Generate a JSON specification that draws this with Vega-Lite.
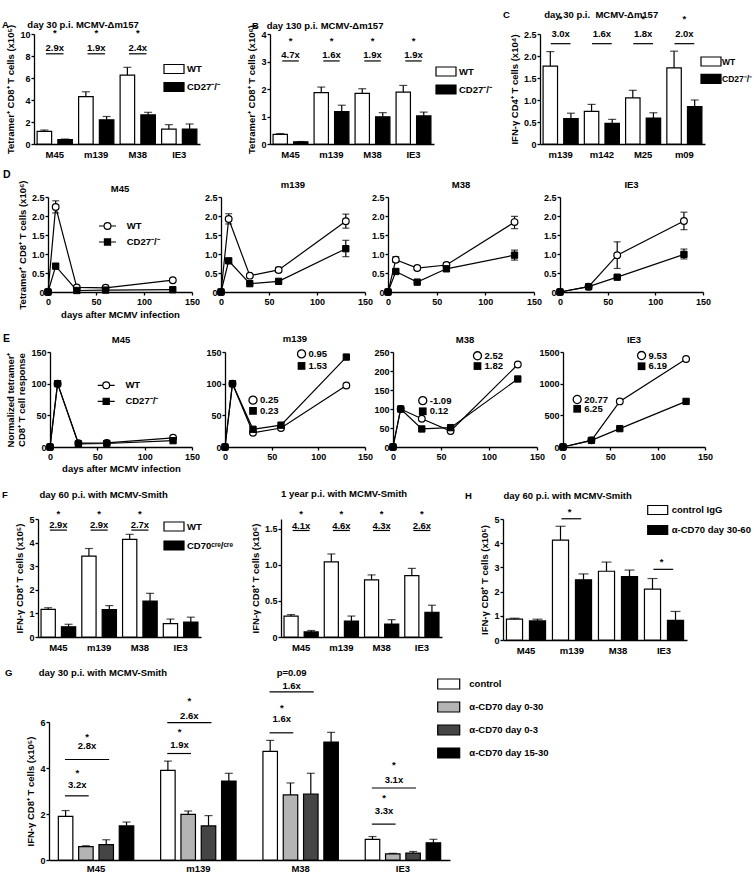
{
"$schema":"https://vega.github.io/schema/vega-lite/v6.json",
"padding":{"left":0,"top":10,"right":0,"bottom":0},
"background":"white",
"config":{
 "view":{"stroke":null},
 "font":"Liberation Sans",
 "axis":{"domainColor":"black","domainWidth":1.3,"tickColor":"black","tickWidth":1.3,"tickSize":3,"labelColor":"black","labelFont":"Liberation Sans","labelFontSize":9,"labelFontWeight":"bold","labelPadding":1,"titleColor":"black","titleFont":"Liberation Sans","titleFontSize":9.5,"titleFontWeight":"bold","titlePadding":4,"grid":false,"labelOverlap":false,"labelBound":false,"labelFlush":false,"tickCount":20},
 "axisX":{"labelPadding":2},
 "axisBand":{"ticks":false,"labelPadding":5,"labelFontSize":9.5},
 "title":{"font":"Liberation Sans","fontSize":9.5,"fontWeight":"bold","color":"black","anchor":"start","offset":2,"frame":"group"},
 "legend":{"padding":0,"labelFont":"Liberation Sans","labelFontSize":9.5,"labelFontWeight":"bold","labelColor":"black","symbolStrokeColor":"black","symbolStrokeWidth":1.2,"symbolOpacity":1},
 "text":{"font":"Liberation Sans","fontSize":9.5,"fontWeight":"bold","color":"black","baseline":"middle"}
},
"spacing":0,
"resolve":{"scale":{"fill":"independent","shape":"independent","xOffset":"independent"}},
"vconcat":[
{
 "hconcat":[
  {"width":34,"height":135.5,"mark":{"type":"point","opacity":0},"data":{"values":[{}]},"encoding":{}},
  {
   "width":166,"height":110,
   "title":{"text":"A\u00a0\u00a0\u00a0\u00a0\u00a0\u00a0\u00a0day 30 p.i. MCMV-Δm157","dx":-32,"dy":7},
   "data":{"values":[
    {"g":"M45","s":"WT","v":1.15,"e":1.27},{"g":"M45","s":"CD27⁻/⁻","v":0.4,"e":0.45},
    {"g":"m139","s":"WT","v":4.3,"e":4.75},{"g":"m139","s":"CD27⁻/⁻","v":2.2,"e":2.5},
    {"g":"M38","s":"WT","v":6.27,"e":6.97},{"g":"M38","s":"CD27⁻/⁻","v":2.64,"e":2.88},
    {"g":"IE3","s":"WT","v":1.36,"e":1.76},{"g":"IE3","s":"CD27⁻/⁻","v":1.36,"e":1.82}]},
   "layer":[
    {"mark":{"type":"bar","stroke":"black","strokeWidth":1.2},
     "encoding":{
      "x":{"field":"g","type":"nominal","sort":["M45","m139","M38","IE3"],"scale":{"paddingInner":0,"paddingOuter":0},"axis":{"title":null,"labelAngle":0}},
      "xOffset":{"field":"s","type":"nominal","sort":["WT","CD27⁻/⁻"],"scale":{"paddingInner":0.3,"paddingOuter":0.15}},
      "y":{"field":"v","type":"quantitative","scale":{"domain":[0,10],"nice":false},"axis":{"title":"Tetramer⁺ CD8⁺ T cells (x10⁵)","values":[0,2,4,6,8,10],"tickCount":20,"format":"d"}},
      "fill":{"field":"s","type":"nominal","scale":{"domain":["WT","CD27⁻/⁻"],"range":["white","black"]},"legend":{"orient":"none","legendX":134,"legendY":29,"title":null,"symbolType":"M-2,-0.9H2V0.9H-2Z","symbolSize":100,"labelOffset":7,"rowPadding":4}}}},
    {"mark":{"type":"rule","color":"black","strokeWidth":1.2},
     "encoding":{"x":{"field":"g","type":"nominal","sort":["M45","m139","M38","IE3"]},"xOffset":{"field":"s","type":"nominal","sort":["WT","CD27⁻/⁻"]},"y":{"field":"v","type":"quantitative"},"y2":{"field":"e"}}},
    {"mark":{"type":"tick","orient":"horizontal","color":"black","size":8,"thickness":1.2},
     "encoding":{"x":{"field":"g","type":"nominal","sort":["M45","m139","M38","IE3"]},"xOffset":{"field":"s","type":"nominal","sort":["WT","CD27⁻/⁻"]},"y":{"field":"e","type":"quantitative"}}},
    {"data":{"values":[{"g":"M45","t":"*","f":"2.9x"},{"g":"m139","t":"*","f":"1.9x"},{"g":"M38","t":"*","f":"2.4x"}]},
     "layer":[
      {"mark":{"type":"text"},"encoding":{"x":{"field":"g","type":"nominal","sort":["M45","m139","M38","IE3"]},"y":{"datum":10.1},"text":{"field":"t"}}},
      {"mark":{"type":"text"},"encoding":{"x":{"field":"g","type":"nominal","sort":["M45","m139","M38","IE3"]},"y":{"datum":8.7},"text":{"field":"f"}}},
      {"mark":{"type":"rule","color":"black","strokeWidth":1.2},"encoding":{"x":{"field":"g","type":"nominal","sort":["M45","m139","M38","IE3"],"bandPosition":0.29},"x2":{"field":"g","bandPosition":0.71},"y":{"datum":8.2}}}
     ]}
   ]
  },
  {"width":70,"height":10,"mark":{"type":"point","opacity":0},"data":{"values":[{}]},"encoding":{}},
  {
   "width":164,"height":110,
   "title":{"text":"B\u00a0\u00a0\u00a0day 130 p.i. MCMV-Δm157","dx":-18,"dy":8},
   "data":{"values":[
    {"g":"M45","s":"WT","v":0.35,"e":0.38},{"g":"M45","s":"CD27⁻/⁻","v":0.08,"e":0.09},
    {"g":"m139","s":"WT","v":1.87,"e":2.07},{"g":"m139","s":"CD27⁻/⁻","v":1.18,"e":1.41},
    {"g":"M38","s":"WT","v":1.84,"e":2.01},{"g":"M38","s":"CD27⁻/⁻","v":0.99,"e":1.14},
    {"g":"IE3","s":"WT","v":1.89,"e":2.13},{"g":"IE3","s":"CD27⁻/⁻","v":1.02,"e":1.16}]},
   "layer":[
    {"mark":{"type":"bar","stroke":"black","strokeWidth":1.2},
     "encoding":{
      "x":{"field":"g","type":"nominal","sort":["M45","m139","M38","IE3"],"scale":{"paddingInner":0,"paddingOuter":0},"axis":{"title":null,"labelAngle":0}},
      "xOffset":{"field":"s","type":"nominal","sort":["WT","CD27⁻/⁻"],"scale":{"paddingInner":0.3,"paddingOuter":0.15}},
      "y":{"field":"v","type":"quantitative","scale":{"domain":[0,4],"nice":false},"axis":{"title":"Tetramer⁺ CD8⁺ T cells (x10⁶)","values":[0,1,2,3,4],"tickCount":20,"format":"d"}},
      "fill":{"field":"s","type":"nominal","scale":{"domain":["WT","CD27⁻/⁻"],"range":["white","black"]},"legend":{"orient":"none","legendX":170,"legendY":31.5,"title":null,"symbolType":"M-2,-0.9H2V0.9H-2Z","symbolSize":100,"labelOffset":7,"rowPadding":4}}}},
    {"mark":{"type":"rule","color":"black","strokeWidth":1.2},
     "encoding":{"x":{"field":"g","type":"nominal","sort":["M45","m139","M38","IE3"]},"xOffset":{"field":"s","type":"nominal","sort":["WT","CD27⁻/⁻"]},"y":{"field":"v","type":"quantitative"},"y2":{"field":"e"}}},
    {"mark":{"type":"tick","orient":"horizontal","color":"black","size":8,"thickness":1.2},
     "encoding":{"x":{"field":"g","type":"nominal","sort":["M45","m139","M38","IE3"]},"xOffset":{"field":"s","type":"nominal","sort":["WT","CD27⁻/⁻"]},"y":{"field":"e","type":"quantitative"}}},
    {"data":{"values":[{"g":"M45","t":"*","f":"4.7x"},{"g":"m139","t":"*","f":"1.6x"},{"g":"M38","t":"*","f":"1.9x"},{"g":"IE3","t":"*","f":"1.9x"}]},
     "layer":[
      {"mark":{"type":"text"},"encoding":{"x":{"field":"g","type":"nominal","sort":["M45","m139","M38","IE3"]},"y":{"datum":3.75},"text":{"field":"t"}}},
      {"mark":{"type":"text"},"encoding":{"x":{"field":"g","type":"nominal","sort":["M45","m139","M38","IE3"]},"y":{"datum":3.24},"text":{"field":"f"}}},
      {"mark":{"type":"rule","color":"black","strokeWidth":1.2},"encoding":{"x":{"field":"g","type":"nominal","sort":["M45","m139","M38","IE3"],"bandPosition":0.3},"x2":{"field":"g","bandPosition":0.7},"y":{"datum":3.02}}}
     ]}
   ]
  },
  {"width":106,"height":10,"mark":{"type":"point","opacity":0},"data":{"values":[{}]},"encoding":{}},
  {
   "width":165,"height":110,
   "title":{"text":"C\u00a0\u00a0\u00a0\u00a0\u00a0\u00a0\u00a0\u00a0\u00a0\u00a0\u00a0\u00a0\u00a0day 30 p.i.\u00a0\u00a0MCMV-Δm157","dx":-37,"dy":8},
   "data":{"values":[
    {"g":"m139","s":"WT","v":1.77,"e":2.1},{"g":"m139","s":"CD27⁻/⁻","v":0.58,"e":0.7},
    {"g":"m142","s":"WT","v":0.74,"e":0.9},{"g":"m142","s":"CD27⁻/⁻","v":0.47,"e":0.56},
    {"g":"M25","s":"WT","v":1.05,"e":1.22},{"g":"M25","s":"CD27⁻/⁻","v":0.59,"e":0.71},
    {"g":"m09","s":"WT","v":1.73,"e":2.11},{"g":"m09","s":"CD27⁻/⁻","v":0.85,"e":1.0}]},
   "layer":[
    {"mark":{"type":"bar","stroke":"black","strokeWidth":1.2},
     "encoding":{
      "x":{"field":"g","type":"nominal","sort":["m139","m142","M25","m09"],"scale":{"paddingInner":0,"paddingOuter":0},"axis":{"title":null,"labelAngle":0}},
      "xOffset":{"field":"s","type":"nominal","sort":["WT","CD27⁻/⁻"],"scale":{"paddingInner":0.3,"paddingOuter":0.15}},
      "y":{"field":"v","type":"quantitative","scale":{"domain":[0,2.5],"nice":false},"axis":{"title":"IFN-γ CD4⁺ T cells (x10⁴)","values":[0,0.5,1,1.5,2,2.5],"tickCount":20,"labelExpr":"datum.value == 0 ? '0' : format(datum.value, '.1f')"}},
      "fill":{"field":"s","type":"nominal","scale":{"domain":["WT","CD27⁻/⁻"],"range":["white","black"]},"legend":{"orient":"none","legendX":165,"legendY":21.5,"title":null,"symbolType":"M-2,-0.9H2V0.9H-2Z","symbolSize":100,"labelOffset":5,"rowPadding":3.3,"labelFontSize":8.5}}}},
    {"mark":{"type":"rule","color":"black","strokeWidth":1.2},
     "encoding":{"x":{"field":"g","type":"nominal","sort":["m139","m142","M25","m09"]},"xOffset":{"field":"s","type":"nominal","sort":["WT","CD27⁻/⁻"]},"y":{"field":"v","type":"quantitative"},"y2":{"field":"e"}}},
    {"mark":{"type":"tick","orient":"horizontal","color":"black","size":8,"thickness":1.2},
     "encoding":{"x":{"field":"g","type":"nominal","sort":["m139","m142","M25","m09"]},"xOffset":{"field":"s","type":"nominal","sort":["WT","CD27⁻/⁻"]},"y":{"field":"e","type":"quantitative"}}},
    {"data":{"values":[{"g":"m139","t":"*","f":"3.0x"},{"g":"m142","t":"","f":"1.6x"},{"g":"M25","t":"*","f":"1.8x"},{"g":"m09","t":"*","f":"2.0x"}]},
     "layer":[
      {"mark":{"type":"text"},"encoding":{"x":{"field":"g","type":"nominal","sort":["m139","m142","M25","m09"]},"y":{"datum":2.85},"text":{"field":"t"}}},
      {"mark":{"type":"text"},"encoding":{"x":{"field":"g","type":"nominal","sort":["m139","m142","M25","m09"]},"y":{"datum":2.5},"text":{"field":"f"}}},
      {"mark":{"type":"rule","color":"black","strokeWidth":1.2},"encoding":{"x":{"field":"g","type":"nominal","sort":["m139","m142","M25","m09"],"bandPosition":0.26},"x2":{"field":"g","bandPosition":0.74},"y":{"datum":2.28}}}
     ]}
   ]
  }
 ],
 "spacing":0,"bounds":"flush",
 "resolve":{"scale":{"fill":"independent","shape":"independent","xOffset":"independent"}}
},
{
 "title":{"text":"D","anchor":"start","dx":3,"dy":3,"fontSize":10.5},
 "hconcat":[
  {"width":48,"height":135.5,"mark":{"type":"point","opacity":0},"data":{"values":[{}]},"encoding":{}},
  {
   "width":144,"height":95,"title":{"text":"M45","anchor":"middle","dy":15},
   "data":{"values":[
    {"d":0,"s":"WT","v":0},{"d":8,"s":"WT","v":2.24,"lo":2.08,"hi":2.4},{"d":30,"s":"WT","v":0.12},{"d":60,"s":"WT","v":0.11},{"d":130,"s":"WT","v":0.31},
    {"d":0,"s":"CD27⁻/⁻","v":0},{"d":8,"s":"CD27⁻/⁻","v":0.68},{"d":30,"s":"CD27⁻/⁻","v":0.04},{"d":60,"s":"CD27⁻/⁻","v":0.05},{"d":130,"s":"CD27⁻/⁻","v":0.06}]},
   "layer":[
    {"mark":{"type":"line","color":"black","strokeWidth":1.2},"encoding":{"x":{"field":"d","type":"quantitative","scale":{"domain":[0,150],"nice":false},"axis":{"values":[0,50,100,150],"tickCount":20,"format":"d","title":"days after MCMV infection","titlePadding":3}},"y":{"field":"v","type":"quantitative","scale":{"domain":[0,2.5],"nice":false},"axis":{"values":[0,0.5,1,1.5,2,2.5],"tickCount":20,"labelExpr":"datum.value == 0 ? '0' : format(datum.value, '.1f')","title":"Tetramer⁺ CD8⁺ T cells (x10⁶)"}},"detail":{"field":"s"}}},
    {"transform":[{"filter":"isValid(datum.hi)"}],"mark":{"type":"rule","color":"black","strokeWidth":1.2},"encoding":{"x":{"field":"d","type":"quantitative"},"y":{"field":"lo","type":"quantitative"},"y2":{"field":"hi"}}},
    {"transform":[{"filter":"isValid(datum.hi)"}],"mark":{"type":"tick","orient":"horizontal","color":"black","size":7,"thickness":1.2},"encoding":{"x":{"field":"d","type":"quantitative"},"y":{"field":"hi","type":"quantitative"}}},
    {"transform":[{"filter":"isValid(datum.hi)"}],"mark":{"type":"tick","orient":"horizontal","color":"black","size":7,"thickness":1.2},"encoding":{"x":{"field":"d","type":"quantitative"},"y":{"field":"lo","type":"quantitative"}}},
    {"transform":[{"filter":"datum.s == 'WT'"}],"mark":{"type":"point","shape":"circle","filled":true,"fill":"white","stroke":"black","strokeWidth":1.2,"size":45,"opacity":1},"encoding":{"x":{"field":"d","type":"quantitative"},"y":{"field":"v","type":"quantitative"}}},
    {"transform":[{"filter":"datum.s != 'WT'"}],"mark":{"type":"point","shape":"square","filled":true,"fill":"black","stroke":"black","strokeWidth":1,"size":40,"opacity":1},"encoding":{"x":{"field":"d","type":"quantitative"},"y":{"field":"v","type":"quantitative"}}},
    {"transform":[{"filter":"false"}],"mark":{"type":"point","filled":true,"stroke":"black","size":289},"encoding":{"x":{"field":"d","type":"quantitative"},"y":{"field":"v","type":"quantitative"},
      "shape":{"field":"s","type":"nominal","scale":{"domain":["WT","CD27⁻/⁻"],"range":["M-1,0H-0.4M0.4,0H1M-0.4,0A0.4,0.4,0,1,1,0.4,0A0.4,0.4,0,1,1,-0.4,0Z","M-1,0H1M-0.36,-0.36H0.36V0.36H-0.36Z"]},"legend":{"orient":"none","legendX":50,"legendY":19.5,"title":null,"symbolSize":289,"labelOffset":9.7,"rowPadding":-1,"encode":{"symbols":{"update":{"stroke":{"value":"black"},"strokeWidth":{"value":1.2}}}}}},
      "fill":{"field":"s","type":"nominal","scale":{"domain":["WT","CD27⁻/⁻"],"range":["white","black"]},"legend":{"orient":"none","legendX":50,"legendY":19.5,"title":null,"symbolSize":289,"labelOffset":9.7,"rowPadding":-1,"encode":{"symbols":{"update":{"stroke":{"value":"black"},"strokeWidth":{"value":1.2}}}}}}}}
   ]
  },
  {"width":29,"height":10,"mark":{"type":"point","opacity":0},"data":{"values":[{}]},"encoding":{}},
  {
   "width":144,"height":95,"title":{"text":"m139","anchor":"middle","dy":-2},
   "data":{"values":[
    {"d":0,"s":"WT","v":0},{"d":8,"s":"WT","v":1.92,"lo":1.79,"hi":2.06},{"d":30,"s":"WT","v":0.43,"lo":0.4,"hi":0.46},{"d":60,"s":"WT","v":0.58,"lo":0.52,"hi":0.65},{"d":130,"s":"WT","v":1.86,"lo":1.68,"hi":2.05},
    {"d":0,"s":"CD27⁻/⁻","v":0},{"d":8,"s":"CD27⁻/⁻","v":0.82,"lo":0.76,"hi":0.88},{"d":30,"s":"CD27⁻/⁻","v":0.22},{"d":60,"s":"CD27⁻/⁻","v":0.28,"lo":0.24,"hi":0.32},{"d":130,"s":"CD27⁻/⁻","v":1.14,"lo":0.93,"hi":1.36}]},
   "layer":[
    {"mark":{"type":"line","color":"black","strokeWidth":1.2},"encoding":{"x":{"field":"d","type":"quantitative","scale":{"domain":[0,150],"nice":false},"axis":{"values":[0,50,100,150],"tickCount":20,"format":"d","title":null}},"y":{"field":"v","type":"quantitative","scale":{"domain":[0,2.5],"nice":false},"axis":{"values":[0,0.5,1,1.5,2,2.5],"tickCount":20,"labelExpr":"datum.value == 0 ? '0' : format(datum.value, '.1f')","title":null}},"detail":{"field":"s"}}},
    {"transform":[{"filter":"isValid(datum.hi)"}],"mark":{"type":"rule","color":"black","strokeWidth":1.2},"encoding":{"x":{"field":"d","type":"quantitative"},"y":{"field":"lo","type":"quantitative"},"y2":{"field":"hi"}}},
    {"transform":[{"filter":"isValid(datum.hi)"}],"mark":{"type":"tick","orient":"horizontal","color":"black","size":7,"thickness":1.2},"encoding":{"x":{"field":"d","type":"quantitative"},"y":{"field":"hi","type":"quantitative"}}},
    {"transform":[{"filter":"isValid(datum.hi)"}],"mark":{"type":"tick","orient":"horizontal","color":"black","size":7,"thickness":1.2},"encoding":{"x":{"field":"d","type":"quantitative"},"y":{"field":"lo","type":"quantitative"}}},
    {"transform":[{"filter":"datum.s == 'WT'"}],"mark":{"type":"point","shape":"circle","filled":true,"fill":"white","stroke":"black","strokeWidth":1.2,"size":45,"opacity":1},"encoding":{"x":{"field":"d","type":"quantitative"},"y":{"field":"v","type":"quantitative"}}},
    {"transform":[{"filter":"datum.s != 'WT'"}],"mark":{"type":"point","shape":"square","filled":true,"fill":"black","stroke":"black","strokeWidth":1,"size":40,"opacity":1},"encoding":{"x":{"field":"d","type":"quantitative"},"y":{"field":"v","type":"quantitative"}}}
   ]
  },
  {"width":23,"height":10,"mark":{"type":"point","opacity":0},"data":{"values":[{}]},"encoding":{}},
  {
   "width":146,"height":95,"title":{"text":"M38","anchor":"middle","dy":-2},
   "data":{"values":[
    {"d":0,"s":"WT","v":0},{"d":8,"s":"WT","v":0.85,"lo":0.78,"hi":0.93},{"d":30,"s":"WT","v":0.63,"lo":0.58,"hi":0.68},{"d":60,"s":"WT","v":0.71,"lo":0.66,"hi":0.77},{"d":130,"s":"WT","v":1.84,"lo":1.67,"hi":1.99},
    {"d":0,"s":"CD27⁻/⁻","v":0},{"d":8,"s":"CD27⁻/⁻","v":0.54,"lo":0.5,"hi":0.6},{"d":30,"s":"CD27⁻/⁻","v":0.26,"lo":0.23,"hi":0.29},{"d":60,"s":"CD27⁻/⁻","v":0.61,"lo":0.58,"hi":0.65},{"d":130,"s":"CD27⁻/⁻","v":0.97,"lo":0.84,"hi":1.1}]},
   "layer":[
    {"mark":{"type":"line","color":"black","strokeWidth":1.2},"encoding":{"x":{"field":"d","type":"quantitative","scale":{"domain":[0,150],"nice":false},"axis":{"values":[0,50,100,150],"tickCount":20,"format":"d","title":null}},"y":{"field":"v","type":"quantitative","scale":{"domain":[0,2.5],"nice":false},"axis":{"values":[0,0.5,1,1.5,2,2.5],"tickCount":20,"labelExpr":"datum.value == 0 ? '0' : format(datum.value, '.1f')","title":null}},"detail":{"field":"s"}}},
    {"transform":[{"filter":"isValid(datum.hi)"}],"mark":{"type":"rule","color":"black","strokeWidth":1.2},"encoding":{"x":{"field":"d","type":"quantitative"},"y":{"field":"lo","type":"quantitative"},"y2":{"field":"hi"}}},
    {"transform":[{"filter":"isValid(datum.hi)"}],"mark":{"type":"tick","orient":"horizontal","color":"black","size":7,"thickness":1.2},"encoding":{"x":{"field":"d","type":"quantitative"},"y":{"field":"hi","type":"quantitative"}}},
    {"transform":[{"filter":"isValid(datum.hi)"}],"mark":{"type":"tick","orient":"horizontal","color":"black","size":7,"thickness":1.2},"encoding":{"x":{"field":"d","type":"quantitative"},"y":{"field":"lo","type":"quantitative"}}},
    {"transform":[{"filter":"datum.s == 'WT'"}],"mark":{"type":"point","shape":"circle","filled":true,"fill":"white","stroke":"black","strokeWidth":1.2,"size":45,"opacity":1},"encoding":{"x":{"field":"d","type":"quantitative"},"y":{"field":"v","type":"quantitative"}}},
    {"transform":[{"filter":"datum.s != 'WT'"}],"mark":{"type":"point","shape":"square","filled":true,"fill":"black","stroke":"black","strokeWidth":1,"size":40,"opacity":1},"encoding":{"x":{"field":"d","type":"quantitative"},"y":{"field":"v","type":"quantitative"}}}
   ]
  },
  {"width":26,"height":10,"mark":{"type":"point","opacity":0},"data":{"values":[{}]},"encoding":{}},
  {
   "width":143,"height":95,"title":{"text":"IE3","anchor":"middle","dy":-2},
   "data":{"values":[
    {"d":0,"s":"WT","v":0},{"d":30,"s":"WT","v":0.14},{"d":60,"s":"WT","v":0.97,"lo":0.62,"hi":1.32},{"d":130,"s":"WT","v":1.87,"lo":1.64,"hi":2.1},
    {"d":0,"s":"CD27⁻/⁻","v":0},{"d":30,"s":"CD27⁻/⁻","v":0.14},{"d":60,"s":"CD27⁻/⁻","v":0.39,"lo":0.37,"hi":0.42},{"d":130,"s":"CD27⁻/⁻","v":0.99,"lo":0.87,"hi":1.13}]},
   "layer":[
    {"mark":{"type":"line","color":"black","strokeWidth":1.2},"encoding":{"x":{"field":"d","type":"quantitative","scale":{"domain":[0,150],"nice":false},"axis":{"values":[0,50,100,150],"tickCount":20,"format":"d","title":null}},"y":{"field":"v","type":"quantitative","scale":{"domain":[0,2.5],"nice":false},"axis":{"values":[0,0.5,1,1.5,2,2.5],"tickCount":20,"labelExpr":"datum.value == 0 ? '0' : format(datum.value, '.1f')","title":null}},"detail":{"field":"s"}}},
    {"transform":[{"filter":"isValid(datum.hi)"}],"mark":{"type":"rule","color":"black","strokeWidth":1.2},"encoding":{"x":{"field":"d","type":"quantitative"},"y":{"field":"lo","type":"quantitative"},"y2":{"field":"hi"}}},
    {"transform":[{"filter":"isValid(datum.hi)"}],"mark":{"type":"tick","orient":"horizontal","color":"black","size":7,"thickness":1.2},"encoding":{"x":{"field":"d","type":"quantitative"},"y":{"field":"hi","type":"quantitative"}}},
    {"transform":[{"filter":"isValid(datum.hi)"}],"mark":{"type":"tick","orient":"horizontal","color":"black","size":7,"thickness":1.2},"encoding":{"x":{"field":"d","type":"quantitative"},"y":{"field":"lo","type":"quantitative"}}},
    {"transform":[{"filter":"datum.s == 'WT'"}],"mark":{"type":"point","shape":"circle","filled":true,"fill":"white","stroke":"black","strokeWidth":1.2,"size":45,"opacity":1},"encoding":{"x":{"field":"d","type":"quantitative"},"y":{"field":"v","type":"quantitative"}}},
    {"transform":[{"filter":"datum.s != 'WT'"}],"mark":{"type":"point","shape":"square","filled":true,"fill":"black","stroke":"black","strokeWidth":1,"size":40,"opacity":1},"encoding":{"x":{"field":"d","type":"quantitative"},"y":{"field":"v","type":"quantitative"}}}
   ]
  }
 ],
 "spacing":0,"bounds":"flush",
 "resolve":{"scale":{"fill":"independent","shape":"independent","xOffset":"independent"}}
},
{
 "title":{"text":"E","anchor":"start","dx":3,"dy":13,"fontSize":10.5},
 "hconcat":[
  {"width":50,"height":136,"mark":{"type":"point","opacity":0},"data":{"values":[{}]},"encoding":{}},
  {
   "width":142,"height":95,"title":{"text":"M45","anchor":"middle","dy":-2},
   "data":{"values":[
    {"d":0,"s":"WT","v":0},{"d":8,"s":"WT","v":100},{"d":30,"s":"WT","v":6},{"d":60,"s":"WT","v":6.5},{"d":130,"s":"WT","v":14.5},
    {"d":0,"s":"CD27⁻/⁻","v":0},{"d":8,"s":"CD27⁻/⁻","v":100},{"d":30,"s":"CD27⁻/⁻","v":5},{"d":60,"s":"CD27⁻/⁻","v":5.5},{"d":130,"s":"CD27⁻/⁻","v":10}]},
   "layer":[
    {"mark":{"type":"line","color":"black","strokeWidth":1.2},"encoding":{"x":{"field":"d","type":"quantitative","scale":{"domain":[0,150],"nice":false},"axis":{"values":[0,50,100,150],"tickCount":20,"format":"d","title":"days after MCMV infection","titlePadding":2}},"y":{"field":"v","type":"quantitative","scale":{"domain":[0,150],"nice":false},"axis":{"values":[0,50,100,150],"tickCount":20,"format":"d","title":["Normalized tetramer⁺","CD8⁺ T cell response"]}},"detail":{"field":"s"}}},
    {"transform":[{"filter":"datum.s == 'WT'"}],"mark":{"type":"point","shape":"circle","filled":true,"fill":"white","stroke":"black","strokeWidth":1.2,"size":45,"opacity":1},"encoding":{"x":{"field":"d","type":"quantitative"},"y":{"field":"v","type":"quantitative"}}},
    {"transform":[{"filter":"datum.s != 'WT'"}],"mark":{"type":"point","shape":"square","filled":true,"fill":"black","stroke":"black","strokeWidth":1,"size":40,"opacity":1},"encoding":{"x":{"field":"d","type":"quantitative"},"y":{"field":"v","type":"quantitative"}}},
    {"transform":[{"filter":"false"}],"mark":{"type":"point","filled":true,"stroke":"black","size":289},"encoding":{"x":{"field":"d","type":"quantitative"},"y":{"field":"v","type":"quantitative"},
      "shape":{"field":"s","type":"nominal","scale":{"domain":["WT","CD27⁻/⁻"],"range":["M-1,0H-0.4M0.4,0H1M-0.4,0A0.4,0.4,0,1,1,0.4,0A0.4,0.4,0,1,1,-0.4,0Z","M-1,0H1M-0.36,-0.36H0.36V0.36H-0.36Z"]},"legend":{"orient":"none","legendX":46.7,"legendY":23.8,"title":null,"symbolSize":289,"labelOffset":9.7,"rowPadding":0,"encode":{"symbols":{"update":{"stroke":{"value":"black"},"strokeWidth":{"value":1.2}}}}}},
      "fill":{"field":"s","type":"nominal","scale":{"domain":["WT","CD27⁻/⁻"],"range":["white","black"]},"legend":{"orient":"none","legendX":46.7,"legendY":23.8,"title":null,"symbolSize":289,"labelOffset":9.7,"rowPadding":0,"encode":{"symbols":{"update":{"stroke":{"value":"black"},"strokeWidth":{"value":1.2}}}}}}}}
   ]
  },
  {"width":33,"height":10,"mark":{"type":"point","opacity":0},"data":{"values":[{}]},"encoding":{}},
  {
   "width":140,"height":95,"title":{"text":"m139","anchor":"middle","dy":-2},
   "data":{"values":[
    {"d":0,"s":"WT","v":0},{"d":8,"s":"WT","v":100},{"d":30,"s":"WT","v":22.5},{"d":60,"s":"WT","v":30},{"d":130,"s":"WT","v":97},
    {"d":0,"s":"CD27⁻/⁻","v":0},{"d":8,"s":"CD27⁻/⁻","v":100},{"d":30,"s":"CD27⁻/⁻","v":28},{"d":60,"s":"CD27⁻/⁻","v":34.5},{"d":130,"s":"CD27⁻/⁻","v":142}]},
   "layer":[
    {"mark":{"type":"line","color":"black","strokeWidth":1.2},"encoding":{"x":{"field":"d","type":"quantitative","scale":{"domain":[0,150],"nice":false},"axis":{"values":[0,50,100,150],"tickCount":20,"format":"d","title":null}},"y":{"field":"v","type":"quantitative","scale":{"domain":[0,150],"nice":false},"axis":{"values":[0,50,100,150],"tickCount":20,"format":"d","title":null}},"detail":{"field":"s"}}},
    {"transform":[{"filter":"datum.s == 'WT'"}],"mark":{"type":"point","shape":"circle","filled":true,"fill":"white","stroke":"black","strokeWidth":1.2,"size":45,"opacity":1},"encoding":{"x":{"field":"d","type":"quantitative"},"y":{"field":"v","type":"quantitative"}}},
    {"transform":[{"filter":"datum.s != 'WT'"}],"mark":{"type":"point","shape":"square","filled":true,"fill":"black","stroke":"black","strokeWidth":1,"size":40,"opacity":1},"encoding":{"x":{"field":"d","type":"quantitative"},"y":{"field":"v","type":"quantitative"}}},
    {"data":{"values":[{"d":30,"v":74,"s":"WT","t":"0.25"},{"d":30,"v":57,"s":"CD27","t":"0.23"},{"d":82,"v":147,"s":"WT","t":"0.95"},{"d":82,"v":128,"s":"CD27","t":"1.53"}]},
     "layer":[
      {"transform":[{"filter":"datum.s == 'WT'"}],"mark":{"type":"point","shape":"circle","filled":true,"fill":"white","stroke":"black","strokeWidth":1.3,"size":65,"opacity":1},"encoding":{"x":{"field":"d","type":"quantitative"},"y":{"field":"v","type":"quantitative"}}},
      {"transform":[{"filter":"datum.s != 'WT'"}],"mark":{"type":"point","shape":"square","filled":true,"fill":"black","size":60,"opacity":1},"encoding":{"x":{"field":"d","type":"quantitative"},"y":{"field":"v","type":"quantitative"}}},
      {"mark":{"type":"text","align":"left","dx":7},"encoding":{"x":{"field":"d","type":"quantitative"},"y":{"field":"v","type":"quantitative"},"text":{"field":"t"}}}
     ]}
   ]
  },
  {"width":28,"height":10,"mark":{"type":"point","opacity":0},"data":{"values":[{}]},"encoding":{}},
  {
   "width":144,"height":95,"title":{"text":"M38","anchor":"middle","dy":-2},
   "data":{"values":[
    {"d":0,"s":"WT","v":0},{"d":8,"s":"WT","v":100},{"d":30,"s":"WT","v":74.5},{"d":60,"s":"WT","v":42},{"d":130,"s":"WT","v":217},
    {"d":0,"s":"CD27⁻/⁻","v":0},{"d":8,"s":"CD27⁻/⁻","v":100},{"d":30,"s":"CD27⁻/⁻","v":47.5},{"d":60,"s":"CD27⁻/⁻","v":51},{"d":130,"s":"CD27⁻/⁻","v":179}]},
   "layer":[
    {"mark":{"type":"line","color":"black","strokeWidth":1.2},"encoding":{"x":{"field":"d","type":"quantitative","scale":{"domain":[0,150],"nice":false},"axis":{"values":[0,50,100,150],"tickCount":20,"format":"d","title":null}},"y":{"field":"v","type":"quantitative","scale":{"domain":[0,250],"nice":false},"axis":{"values":[0,50,100,150,200,250],"tickCount":20,"format":"d","title":null}},"detail":{"field":"s"}}},
    {"transform":[{"filter":"datum.s == 'WT'"}],"mark":{"type":"point","shape":"circle","filled":true,"fill":"white","stroke":"black","strokeWidth":1.2,"size":45,"opacity":1},"encoding":{"x":{"field":"d","type":"quantitative"},"y":{"field":"v","type":"quantitative"}}},
    {"transform":[{"filter":"datum.s != 'WT'"}],"mark":{"type":"point","shape":"square","filled":true,"fill":"black","stroke":"black","strokeWidth":1,"size":40,"opacity":1},"encoding":{"x":{"field":"d","type":"quantitative"},"y":{"field":"v","type":"quantitative"}}},
    {"data":{"values":[{"d":31,"v":122,"s":"WT","t":"-1.09"},{"d":31,"v":94,"s":"CD27","t":"0.12"},{"d":88,"v":240,"s":"WT","t":"2.52"},{"d":88,"v":213,"s":"CD27","t":"1.82"}]},
     "layer":[
      {"transform":[{"filter":"datum.s == 'WT'"}],"mark":{"type":"point","shape":"circle","filled":true,"fill":"white","stroke":"black","strokeWidth":1.3,"size":65,"opacity":1},"encoding":{"x":{"field":"d","type":"quantitative"},"y":{"field":"v","type":"quantitative"}}},
      {"transform":[{"filter":"datum.s != 'WT'"}],"mark":{"type":"point","shape":"square","filled":true,"fill":"black","size":60,"opacity":1},"encoding":{"x":{"field":"d","type":"quantitative"},"y":{"field":"v","type":"quantitative"}}},
      {"mark":{"type":"text","align":"left","dx":7},"encoding":{"x":{"field":"d","type":"quantitative"},"y":{"field":"v","type":"quantitative"},"text":{"field":"t"}}}
     ]}
   ]
  },
  {"width":26,"height":10,"mark":{"type":"point","opacity":0},"data":{"values":[{}]},"encoding":{}},
  {
   "width":142,"height":95,"title":{"text":"IE3","anchor":"middle","dy":-2},
   "data":{"values":[
    {"d":0,"s":"WT","v":0},{"d":30,"s":"WT","v":105},{"d":60,"s":"WT","v":720},{"d":130,"s":"WT","v":1390},
    {"d":0,"s":"CD27⁻/⁻","v":0},{"d":30,"s":"CD27⁻/⁻","v":105},{"d":60,"s":"CD27⁻/⁻","v":290},{"d":130,"s":"CD27⁻/⁻","v":720}]},
   "layer":[
    {"mark":{"type":"line","color":"black","strokeWidth":1.2},"encoding":{"x":{"field":"d","type":"quantitative","scale":{"domain":[0,150],"nice":false},"axis":{"values":[0,50,100,150],"tickCount":20,"format":"d","title":null}},"y":{"field":"v","type":"quantitative","scale":{"domain":[0,1500],"nice":false},"axis":{"values":[0,500,1000,1500],"tickCount":20,"format":"d","title":null}},"detail":{"field":"s"}}},
    {"transform":[{"filter":"datum.s == 'WT'"}],"mark":{"type":"point","shape":"circle","filled":true,"fill":"white","stroke":"black","strokeWidth":1.2,"size":45,"opacity":1},"encoding":{"x":{"field":"d","type":"quantitative"},"y":{"field":"v","type":"quantitative"}}},
    {"transform":[{"filter":"datum.s != 'WT'"}],"mark":{"type":"point","shape":"square","filled":true,"fill":"black","stroke":"black","strokeWidth":1,"size":40,"opacity":1},"encoding":{"x":{"field":"d","type":"quantitative"},"y":{"field":"v","type":"quantitative"}}},
    {"data":{"values":[{"d":15,"v":750,"s":"WT","t":"20.77"},{"d":15,"v":603,"s":"CD27","t":"6.25"},{"d":83,"v":1444,"s":"WT","t":"9.53"},{"d":83,"v":1275,"s":"CD27","t":"6.19"}]},
     "layer":[
      {"transform":[{"filter":"datum.s == 'WT'"}],"mark":{"type":"point","shape":"circle","filled":true,"fill":"white","stroke":"black","strokeWidth":1.3,"size":65,"opacity":1},"encoding":{"x":{"field":"d","type":"quantitative"},"y":{"field":"v","type":"quantitative"}}},
      {"transform":[{"filter":"datum.s != 'WT'"}],"mark":{"type":"point","shape":"square","filled":true,"fill":"black","size":60,"opacity":1},"encoding":{"x":{"field":"d","type":"quantitative"},"y":{"field":"v","type":"quantitative"}}},
      {"mark":{"type":"text","align":"left","dx":7},"encoding":{"x":{"field":"d","type":"quantitative"},"y":{"field":"v","type":"quantitative"},"text":{"field":"t"}}}
     ]}
   ]
  }
 ],
 "spacing":0,"bounds":"flush",
 "resolve":{"scale":{"fill":"independent","shape":"independent","xOffset":"independent"}}
},
{
 "hconcat":[
  {"width":38,"height":147.5,"mark":{"type":"point","opacity":0},"data":{"values":[{}]},"encoding":{}},
  {
   "width":163,"height":118,
   "title":{"text":"F\u00a0\u00a0\u00a0\u00a0\u00a0\u00a0\u00a0\u00a0\u00a0\u00a0\u00a0\u00a0day 60 p.i. with MCMV-Smith","dx":-36,"dy":-7},
   "data":{"values":[
    {"g":"M45","s":"WT","v":1.17,"e":1.24},{"g":"M45","s":"CD70ᶜʳᵉ/ᶜʳᵉ","v":0.43,"e":0.54},
    {"g":"m139","s":"WT","v":3.43,"e":3.75},{"g":"m139","s":"CD70ᶜʳᵉ/ᶜʳᵉ","v":1.16,"e":1.33},
    {"g":"M38","s":"WT","v":4.14,"e":4.35},{"g":"M38","s":"CD70ᶜʳᵉ/ᶜʳᵉ","v":1.52,"e":1.85},
    {"g":"IE3","s":"WT","v":0.57,"e":0.76},{"g":"IE3","s":"CD70ᶜʳᵉ/ᶜʳᵉ","v":0.63,"e":0.84}]},
   "layer":[
    {"mark":{"type":"bar","stroke":"black","strokeWidth":1.2},
     "encoding":{
      "x":{"field":"g","type":"nominal","sort":["M45","m139","M38","IE3"],"scale":{"paddingInner":0,"paddingOuter":0},"axis":{"title":null,"labelAngle":0}},
      "xOffset":{"field":"s","type":"nominal","sort":["WT","CD70ᶜʳᵉ/ᶜʳᵉ"],"scale":{"paddingInner":0.3,"paddingOuter":0.15}},
      "y":{"field":"v","type":"quantitative","scale":{"domain":[0,5],"nice":false},"axis":{"title":"IFN-γ CD8⁺ T cells (x10⁵)","values":[0,1,2,3,4,5],"tickCount":20,"format":"d"}},
      "fill":{"field":"s","type":"nominal","scale":{"domain":["WT","CD70ᶜʳᵉ/ᶜʳᵉ"],"range":["white","black"]},"legend":{"orient":"none","legendX":130,"legendY":1.5,"title":null,"symbolType":"M-2,-0.9H2V0.9H-2Z","symbolSize":100,"labelOffset":7,"rowPadding":5}}}},
    {"mark":{"type":"rule","color":"black","strokeWidth":1.2},
     "encoding":{"x":{"field":"g","type":"nominal","sort":["M45","m139","M38","IE3"]},"xOffset":{"field":"s","type":"nominal","sort":["WT","CD70ᶜʳᵉ/ᶜʳᵉ"]},"y":{"field":"v","type":"quantitative"},"y2":{"field":"e"}}},
    {"mark":{"type":"tick","orient":"horizontal","color":"black","size":8,"thickness":1.2},
     "encoding":{"x":{"field":"g","type":"nominal","sort":["M45","m139","M38","IE3"]},"xOffset":{"field":"s","type":"nominal","sort":["WT","CD70ᶜʳᵉ/ᶜʳᵉ"]},"y":{"field":"e","type":"quantitative"}}},
    {"data":{"values":[{"g":"M45","t":"*","f":"2.9x"},{"g":"m139","t":"*","f":"2.9x"},{"g":"M38","t":"*","f":"2.7x"}]},
     "layer":[
      {"mark":{"type":"text"},"encoding":{"x":{"field":"g","type":"nominal","sort":["M45","m139","M38","IE3"]},"y":{"datum":5.22},"text":{"field":"t"}}},
      {"mark":{"type":"text"},"encoding":{"x":{"field":"g","type":"nominal","sort":["M45","m139","M38","IE3"]},"y":{"datum":4.73},"text":{"field":"f"}}},
      {"mark":{"type":"rule","color":"black","strokeWidth":1.2},"encoding":{"x":{"field":"g","type":"nominal","sort":["M45","m139","M38","IE3"],"bandPosition":0.29},"x2":{"field":"g","bandPosition":0.71},"y":{"datum":4.53}}}
     ]}
   ]
  },
  {"width":80,"height":10,"mark":{"type":"point","opacity":0},"data":{"values":[{}]},"encoding":{}},
  {
   "width":161,"height":118,
   "title":{"text":"1 year p.i. with MCMV-Smith","dx":0,"dy":-9},
   "data":{"values":[
    {"g":"M45","s":"WT","v":0.29,"e":0.31},{"g":"M45","s":"CD70","v":0.07,"e":0.09},
    {"g":"m139","s":"WT","v":1.04,"e":1.15},{"g":"m139","s":"CD70","v":0.22,"e":0.29},
    {"g":"M38","s":"WT","v":0.79,"e":0.86},{"g":"M38","s":"CD70","v":0.18,"e":0.24},
    {"g":"IE3","s":"WT","v":0.85,"e":0.95},{"g":"IE3","s":"CD70","v":0.34,"e":0.44}]},
   "layer":[
    {"mark":{"type":"bar","stroke":"black","strokeWidth":1.2},
     "encoding":{
      "x":{"field":"g","type":"nominal","sort":["M45","m139","M38","IE3"],"scale":{"paddingInner":0,"paddingOuter":0},"axis":{"title":null,"labelAngle":0}},
      "xOffset":{"field":"s","type":"nominal","sort":["WT","CD70"],"scale":{"paddingInner":0.3,"paddingOuter":0.15}},
      "y":{"field":"v","type":"quantitative","scale":{"domain":[0,1.634],"nice":false},"axis":{"title":"IFN-γ CD8⁺ T cells (x10⁶)","values":[0,0.5,1,1.5],"tickCount":20,"labelExpr":"datum.value == 0 ? '0' : format(datum.value, '.1f')"}},
      "fill":{"field":"s","type":"nominal","scale":{"domain":["WT","CD70"],"range":["white","black"]},"legend":null}}},
    {"mark":{"type":"rule","color":"black","strokeWidth":1.2},
     "encoding":{"x":{"field":"g","type":"nominal","sort":["M45","m139","M38","IE3"]},"xOffset":{"field":"s","type":"nominal","sort":["WT","CD70"]},"y":{"field":"v","type":"quantitative"},"y2":{"field":"e"}}},
    {"mark":{"type":"tick","orient":"horizontal","color":"black","size":8,"thickness":1.2},
     "encoding":{"x":{"field":"g","type":"nominal","sort":["M45","m139","M38","IE3"]},"xOffset":{"field":"s","type":"nominal","sort":["WT","CD70"]},"y":{"field":"e","type":"quantitative"}}},
    {"data":{"values":[{"g":"M45","t":"*","f":"4.1x"},{"g":"m139","t":"*","f":"4.6x"},{"g":"M38","t":"*","f":"4.3x"},{"g":"IE3","t":"*","f":"2.6x"}]},
     "layer":[
      {"mark":{"type":"text"},"encoding":{"x":{"field":"g","type":"nominal","sort":["M45","m139","M38","IE3"]},"y":{"datum":1.7},"text":{"field":"t"}}},
      {"mark":{"type":"text"},"encoding":{"x":{"field":"g","type":"nominal","sort":["M45","m139","M38","IE3"]},"y":{"datum":1.54},"text":{"field":"f"}}},
      {"mark":{"type":"rule","color":"black","strokeWidth":1.2},"encoding":{"x":{"field":"g","type":"nominal","sort":["M45","m139","M38","IE3"],"bandPosition":0.29},"x2":{"field":"g","bandPosition":0.71},"y":{"datum":1.475}}}
     ]}
   ]
  },
  {"width":61,"height":10,"mark":{"type":"point","opacity":0},"data":{"values":[{}]},"encoding":{}},
  {
   "width":184,"height":121,
   "title":{"text":"H\u00a0\u00a0\u00a0\u00a0\u00a0\u00a0\u00a0\u00a0\u00a0\u00a0\u00a0\u00a0day 60 p.i. with MCMV-Smith","dx":-38,"dy":-2},
   "data":{"values":[
    {"g":"M45","s":"control IgG","v":0.86,"e":0.9},{"g":"M45","s":"α-CD70 day 30-60","v":0.79,"e":0.86},
    {"g":"m139","s":"control IgG","v":4.13,"e":4.7},{"g":"m139","s":"α-CD70 day 30-60","v":2.49,"e":2.73},
    {"g":"M38","s":"control IgG","v":2.84,"e":3.22},{"g":"M38","s":"α-CD70 day 30-60","v":2.62,"e":2.89},
    {"g":"IE3","s":"control IgG","v":2.1,"e":2.54},{"g":"IE3","s":"α-CD70 day 30-60","v":0.81,"e":1.18}]},
   "layer":[
    {"mark":{"type":"bar","stroke":"black","strokeWidth":1.2},
     "encoding":{
      "x":{"field":"g","type":"nominal","sort":["M45","m139","M38","IE3"],"scale":{"paddingInner":0,"paddingOuter":0},"axis":{"title":null,"labelAngle":0}},
      "xOffset":{"field":"s","type":"nominal","sort":["control IgG","α-CD70 day 30-60"],"scale":{"paddingInner":0.3,"paddingOuter":0.15}},
      "y":{"field":"v","type":"quantitative","scale":{"domain":[0,5],"nice":false},"axis":{"title":"IFN-γ CD8⁺ T cells (x10⁵)","values":[0,1,2,3,4,5],"tickCount":20,"format":"d"}},
      "fill":{"field":"s","type":"nominal","scale":{"domain":["control IgG","α-CD70 day 30-60"],"range":["white","black"]},"legend":{"orient":"none","legendX":148.7,"legendY":-15,"title":null,"symbolType":"M-2,-0.9H2V0.9H-2Z","symbolSize":100,"labelOffset":8,"rowPadding":6}}}},
    {"mark":{"type":"rule","color":"black","strokeWidth":1.2},
     "encoding":{"x":{"field":"g","type":"nominal","sort":["M45","m139","M38","IE3"]},"xOffset":{"field":"s","type":"nominal","sort":["control IgG","α-CD70 day 30-60"]},"y":{"field":"v","type":"quantitative"},"y2":{"field":"e"}}},
    {"mark":{"type":"tick","orient":"horizontal","color":"black","size":10,"thickness":1.2},
     "encoding":{"x":{"field":"g","type":"nominal","sort":["M45","m139","M38","IE3"]},"xOffset":{"field":"s","type":"nominal","sort":["control IgG","α-CD70 day 30-60"]},"y":{"field":"e","type":"quantitative"}}},
    {"data":{"values":[{"g":"m139","ys":5.29,"yl":5.01},{"g":"IE3","ys":3.22,"yl":2.92}]},
     "layer":[
      {"mark":{"type":"text","text":"*"},"encoding":{"x":{"field":"g","type":"nominal","sort":["M45","m139","M38","IE3"],"bandPosition":0.45},"y":{"field":"ys","type":"quantitative"}}},
      {"mark":{"type":"rule","color":"black","strokeWidth":1.2},"encoding":{"x":{"field":"g","type":"nominal","sort":["M45","m139","M38","IE3"],"bandPosition":0.27},"x2":{"field":"g","bandPosition":0.7},"y":{"field":"yl","type":"quantitative"}}}
     ]}
   ]
  }
 ],
 "spacing":0,"bounds":"flush",
 "resolve":{"scale":{"fill":"independent","shape":"independent","xOffset":"independent"}}
},
{
 "hconcat":[
  {"width":49,"height":138,"mark":{"type":"point","opacity":0},"data":{"values":[{}]},"encoding":{}},
  {
   "width":401,"height":138,
   "title":{"text":"G\u00a0\u00a0\u00a0\u00a0\u00a0\u00a0\u00a0\u00a0\u00a0\u00a0day 30 p.i. with MCMV-Smith","dx":-44,"dy":12},
   "data":{"values":[
    {"g":"M45","s":"control","v":1.9,"e":2.15},{"g":"M45","s":"α-CD70 day 0-30","v":0.58,"e":0.62},{"g":"M45","s":"α-CD70 day 0-3","v":0.67,"e":0.88},{"g":"M45","s":"α-CD70 day 15-30","v":1.48,"e":1.65},
    {"g":"m139","s":"control","v":3.9,"e":4.3},{"g":"m139","s":"α-CD70 day 0-30","v":1.98,"e":2.13},{"g":"m139","s":"α-CD70 day 0-3","v":1.48,"e":1.93},{"g":"m139","s":"α-CD70 day 15-30","v":3.43,"e":3.77},
    {"g":"M38","s":"control","v":4.72,"e":5.2},{"g":"M38","s":"α-CD70 day 0-30","v":2.83,"e":3.35},{"g":"M38","s":"α-CD70 day 0-3","v":2.87,"e":3.77},{"g":"M38","s":"α-CD70 day 15-30","v":5.13,"e":5.55},
    {"g":"IE3","s":"control","v":0.9,"e":1.02},{"g":"IE3","s":"α-CD70 day 0-30","v":0.27,"e":0.29},{"g":"IE3","s":"α-CD70 day 0-3","v":0.3,"e":0.37},{"g":"IE3","s":"α-CD70 day 15-30","v":0.75,"e":0.9}]},
   "layer":[
    {"mark":{"type":"bar","stroke":"black","strokeWidth":1.2},
     "encoding":{
      "x":{"field":"g","type":"nominal","sort":["M45","m139","M38","IE3"],"scale":{"paddingInner":0.2,"paddingOuter":0.06},"axis":{"title":null,"labelAngle":0,"labelPadding":3}},
      "xOffset":{"field":"s","type":"nominal","sort":["control","α-CD70 day 0-30","α-CD70 day 0-3","α-CD70 day 15-30"],"scale":{"paddingInner":0.286,"paddingOuter":0.158}},
      "y":{"field":"v","type":"quantitative","scale":{"domain":[0,6],"nice":false},"axis":{"title":"IFN-γ CD8⁺ T cells (x10⁵)","values":[0,2,4,6],"tickCount":20,"format":"d"}},
      "fill":{"field":"s","type":"nominal","scale":{"domain":["control","α-CD70 day 0-30","α-CD70 day 0-3","α-CD70 day 15-30"],"range":["white","#b4b4b4","#454545","black"]},"legend":{"orient":"none","legendX":393.7,"legendY":-44,"title":null,"symbolType":"M-2.2,-1H2.2V1H-2.2Z","symbolSize":100,"labelOffset":14.6,"rowPadding":7}}}},
    {"mark":{"type":"rule","color":"black","strokeWidth":1.2},
     "encoding":{"x":{"field":"g","type":"nominal","sort":["M45","m139","M38","IE3"]},"xOffset":{"field":"s","type":"nominal","sort":["control","α-CD70 day 0-30","α-CD70 day 0-3","α-CD70 day 15-30"]},"y":{"field":"v","type":"quantitative"},"y2":{"field":"e"}}},
    {"mark":{"type":"tick","orient":"horizontal","color":"black","size":8,"thickness":1.2},
     "encoding":{"x":{"field":"g","type":"nominal","sort":["M45","m139","M38","IE3"]},"xOffset":{"field":"s","type":"nominal","sort":["control","α-CD70 day 0-30","α-CD70 day 0-3","α-CD70 day 15-30"]},"y":{"field":"e","type":"quantitative"}}},
    {"data":{"values":[
      {"g":"M45","k":"short","y":3.79,"t":"*"},{"g":"M45","k":"short","y":3.28,"t":"3.2x"},
      {"g":"M45","k":"med","y":5.36,"t":"*"},{"g":"M45","k":"med","y":4.95,"t":"2.8x"},
      {"g":"m139","k":"short","y":5.56,"t":"*"},{"g":"m139","k":"short","y":5.02,"t":"1.9x"},
      {"g":"m139","k":"med","y":6.92,"t":"*"},{"g":"m139","k":"med","y":6.26,"t":"2.6x"},
      {"g":"M38","k":"short","y":6.62,"t":"*"},{"g":"M38","k":"short","y":6.11,"t":"1.6x"},
      {"g":"M38","k":"med","y":8.15,"t":"p=0.09"},{"g":"M38","k":"med","y":7.57,"t":"1.6x"},
      {"g":"IE3","k":"short","y":2.69,"t":"*"},{"g":"IE3","k":"short","y":2.11,"t":"3.3x"},
      {"g":"IE3","k":"med","y":4.15,"t":"*"},{"g":"IE3","k":"med","y":3.49,"t":"3.1x"}]},
     "layer":[
      {"transform":[{"filter":"datum.k == 'short'"}],"mark":{"type":"text"},"encoding":{"x":{"field":"g","type":"nominal","sort":["M45","m139","M38","IE3"],"bandPosition":0.27},"y":{"field":"y","type":"quantitative"},"text":{"field":"t"}}},
      {"transform":[{"filter":"datum.k == 'med'"}],"mark":{"type":"text"},"encoding":{"x":{"field":"g","type":"nominal","sort":["M45","m139","M38","IE3"],"bandPosition":0.39},"y":{"field":"y","type":"quantitative"},"text":{"field":"t"}}}
     ]},
    {"data":{"values":[
      {"g":"M45","k":"short","y":2.79},{"g":"M45","k":"med","y":4.37},{"g":"m139","k":"short","y":4.63},{"g":"m139","k":"med","y":5.97},
      {"g":"M38","k":"short","y":5.53},{"g":"M38","k":"med","y":7.31},{"g":"IE3","k":"short","y":1.56},{"g":"IE3","k":"med","y":3.13}]},
     "layer":[
      {"transform":[{"filter":"datum.k == 'short'"}],"mark":{"type":"rule","color":"black","strokeWidth":1.2},"encoding":{"x":{"field":"g","type":"nominal","sort":["M45","m139","M38","IE3"],"bandPosition":0.12},"x2":{"field":"g","bandPosition":0.41},"y":{"field":"y","type":"quantitative"}}},
      {"transform":[{"filter":"datum.k == 'med'"}],"mark":{"type":"rule","color":"black","strokeWidth":1.2},"encoding":{"x":{"field":"g","type":"nominal","sort":["M45","m139","M38","IE3"],"bandPosition":0.12},"x2":{"field":"g","bandPosition":0.66},"y":{"field":"y","type":"quantitative"}}}
     ]}
   ]
  }
 ],
 "spacing":0,"bounds":"flush",
 "resolve":{"scale":{"fill":"independent","shape":"independent","xOffset":"independent"}}
}
]
}
